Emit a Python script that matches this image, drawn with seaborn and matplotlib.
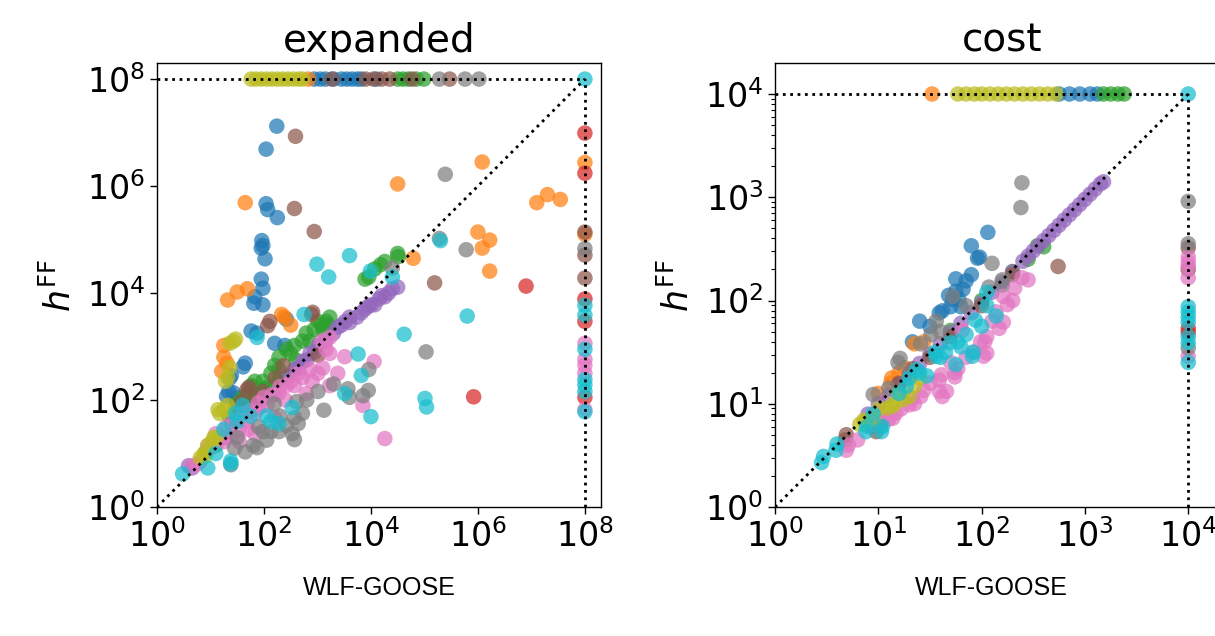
import numpy as np
import pandas as pd
import matplotlib
matplotlib.use("Agg")
import matplotlib.pyplot as plt
import matplotlib.ticker as mticker
import seaborn as sns


# =====================
# DATA (log10 of the values)
# =====================

domains = ["blue", "orange", "green", "red", "purple",
           "brown", "pink", "gray", "olive", "cyan"]

exp_cap = 8
cost_cap = 4

# ---- expanded ----
exp_blue = [(2.94, 8), (3.05, 8), (3.15, 8), (3.3, 8), (3.45, 8), (3.55, 8),
            (3.65, 8), (3.75, 8), (3.82, 8), (4.1, 8),
            (2.24, 7.12), (2.04, 6.69), (2.04, 5.67), (2.07, 5.56), (2.25, 5.41),
            (1.96, 4.98), (1.98, 4.89), (1.95, 4.84), (2.02, 4.64), (1.95, 4.26),
            (1.98, 4.09), (1.83, 3.93), (1.81, 3.81), (1.98, 3.78), (1.76, 3.29),
            (1.87, 3.25), (2.2, 3.06), (2.39, 3.02), (1.65, 2.69), (1.39, 2.46),
            (1.34, 2.16), (1.42, 2.14), (2.42, 3.51), (1.30, 2.07), (1.48, 2.04),
            (1.61, 2.62), (1.36, 2.41)]
exp_orange = [(2.83, 8), (8, 6.44), (8, 5.1),
              (1.65, 5.69), (4.5, 6.04), (6.08, 6.45), (7.1, 5.69), (7.3, 5.84),
              (7.54, 5.75), (6.0, 5.14), (6.08, 4.84), (6.22, 4.99), (6.22, 4.41),
              (4.79, 4.65), (1.32, 3.87), (1.5, 4.02), (1.69, 4.08), (2.33, 3.6),
              (2.5, 3.4), (1.25, 3.02), (1.25, 2.8), (1.31, 2.69), (1.21, 2.54),
              (2.38, 3.55)]
exp_green = [(4.5, 8), (4.6, 8), (4.7, 8), (4.85, 8), (4.99, 8),
             (4.5, 4.74), (4.51, 4.68), (4.26, 4.59), (4.18, 4.53), (4.07, 4.45),
             (3.96, 4.3), (3.89, 4.26), (3.23, 3.55), (3.16, 3.47), (3.08, 3.4),
             (3.01, 3.47), (2.94, 3.32), (2.79, 3.25), (2.72, 3.1), (2.57, 3.02),
             (2.5, 2.87), (2.42, 2.95), (2.28, 2.8), (2.2, 2.65), (2.13, 2.5),
             (1.98, 2.35), (1.83, 2.35), (1.76, 2.27), (1.69, 2.12), (1.61, 2.05),
             (1.54, 1.97), (1.47, 1.9), (2.28, 2.57), (2.42, 2.42), (2.2, 2.27),
             (2.06, 2.24), (1.91, 2.05), (0.92, 1.03),
             (1.7, 1.9), (1.85, 2.1), (2.0, 2.2), (2.3, 2.4), (2.6, 2.75),
             (2.85, 3.1), (3.1, 3.3), (3.2, 3.4), (1.35, 1.7), (1.1, 1.15)]
exp_red = [(8, 6.99), (8, 6.24), (8, 3.89), (8, 3.47), (8, 2.05),
           (6.9, 4.13), (5.92, 2.06)]
exp_purple = [(4.5, 4.11), (4.4, 4.08), (4.33, 4.0), (4.26, 3.93), (4.15, 3.89),
              (4.07, 3.78), (4.0, 3.78), (3.89, 3.7), (3.82, 3.63), (3.74, 3.55),
              (3.6, 3.55), (3.52, 3.47), (3.45, 3.4), (3.38, 3.36), (3.3, 3.25),
              (3.01, 3.02), (2.86, 2.87), (2.72, 2.72), (2.57, 2.57),
              (0.59, 0.77), (0.66, 0.73),
              (2.45, 2.45), (2.65, 2.6), (2.8, 2.75), (2.95, 2.9), (3.15, 3.1),
              (3.6, 3.45), (3.95, 3.75), (4.2, 3.95), (1.9, 1.85), (2.2, 2.1),
              (1.3, 1.3)]
exp_brown = [(3.27, 8), (3.9, 8), (4.05, 8), (4.2, 8), (4.35, 8), (4.77, 8),
             (5.47, 8), (8, 5.14), (8, 4.71), (8, 4.28),
             (2.59, 6.93), (2.57, 5.58), (2.94, 5.15), (5.19, 4.19), (2.11, 3.47),
             (2.91, 3.64), (1.72, 2.24), (1.98, 2.16), (3.01, 2.84), (1.58, 1.97),
             (2.07, 3.39), (2.36, 2.64), (2.21, 2.41), (1.68, 2.19), (1.52, 1.88),
             (2.89, 3.6), (1.4, 1.55), (1.85, 2.0)]
exp_pink = [(8, 3.06), (8, 2.76), (8, 2.65), (8, 2.5), (8, 1.82),
            (4.26, 1.28), (3.85, 1.9), (4.06, 2.72), (3.51, 2.81), (3.16, 2.95),
            (3.23, 2.87), (3.01, 2.5), (2.86, 2.57), (2.72, 2.42), (2.57, 2.27),
            (2.42, 2.27), (2.28, 2.12), (2.06, 1.9), (1.83, 1.75), (1.69, 1.6),
            (1.54, 1.45), (1.39, 1.37), (1.25, 1.3), (1.1, 1.37), (0.95, 1.15),
            (0.81, 0.85), (0.66, 0.77), (3.23, 2.27), (3.38, 2.5), (2.79, 2.12),
            (2.2, 1.67), (1.83, 1.37), (1.54, 1.22), (1.25, 1.22), (3.23, 3.17),
            (3.08, 3.1),
            (1.3, 1.5), (1.45, 1.6), (1.6, 1.75), (1.75, 1.8), (1.9, 1.95),
            (2.0, 2.05), (2.15, 2.1), (2.3, 2.25), (2.5, 2.35), (2.65, 2.5),
            (1.15, 1.25), (1.0, 1.1), (0.75, 0.8), (1.7, 1.45), (2.4, 2.0),
            (2.9, 2.35), (3.1, 2.6)]
exp_gray = [(5.28, 8), (5.76, 8), (6.02, 8), (8, 4.83),
            (5.39, 6.22), (5.28, 5.02), (5.78, 4.81), (4.4, 4.47), (5.03, 2.9),
            (3.96, 2.57), (3.95, 2.18), (3.85, 2.08), (3.57, 2.21), (3.6, 2.05),
            (3.01, 2.16), (3.12, 1.81), (2.61, 1.97), (2.57, 1.67), (2.72, 1.75),
            (2.64, 1.56), (2.42, 1.52), (2.53, 1.37), (2.57, 1.26), (2.28, 1.41),
            (2.13, 1.41), (1.87, 1.11), (1.8, 1.15), (2.19, 1.93), (1.65, 1.03),
            (1.38, 0.79), (1.98, 1.41),
            (1.5, 1.3), (1.9, 1.5), (2.3, 1.7), (2.8, 2.0), (3.3, 2.3),
            (1.45, 1.1), (2.05, 1.25)]
exp_olive = [(1.76, 8), (1.85, 8), (1.95, 8), (2.05, 8), (2.15, 8), (2.25, 8),
             (2.35, 8), (2.45, 8), (2.55, 8), (2.65, 8), (2.72, 8),
             (1.36, 3.06), (1.43, 3.1), (1.47, 3.14), (1.36, 2.61), (1.32, 2.42),
             (1.28, 2.35), (1.32, 1.9), (1.25, 1.82), (1.17, 1.75), (1.14, 1.82),
             (1.06, 1.3), (1.03, 1.22), (0.95, 1.15), (0.88, 1.0), (0.81, 0.92),
             (1.1, 1.3), (0.9, 0.95)]
exp_cyan = [(8, 8), (8, 3.77), (8, 3.59), (8, 2.95), (8, 2.38), (8, 2.28),
            (8, 2.16), (8, 1.78),
            (2.99, 4.54), (3.6, 4.7), (3.21, 4.3), (5.3, 4.98), (3.99, 4.41),
            (4.4, 4.3), (2.75, 3.6), (5.8, 3.57), (4.62, 3.23), (3.76, 2.86),
            (3.82, 2.46), (3.51, 2.12), (5.01, 2.03), (5.04, 1.87), (4.0, 1.69),
            (2.53, 1.86), (2.13, 1.6), (2.28, 1.56), (1.87, 3.17), (1.38, 0.86),
            (1.38, 0.81), (0.48, 0.62), (0.95, 0.73), (1.47, 1.75), (1.5, 1.6),
            (1.6, 1.9), (1.75, 1.7), (1.25, 1.45), (1.1, 1.0), (2.05, 1.7)]

# ---- cost ----
cost_blue = [(2.75, 4), (2.85, 4), (2.95, 4), (3.05, 4), (3.12, 4),
             (2.06, 2.66), (1.9, 2.53), (1.96, 2.41), (1.98, 2.42), (1.9, 2.25),
             (1.75, 2.21), (1.85, 2.19), (1.82, 2.11), (1.75, 2.09), (1.72, 2.01),
             (1.78, 2.01), (1.7, 1.94), (1.8, 1.94), (1.59, 1.88), (1.62, 1.9),
             (1.4, 1.8), (1.33, 1.6), (1.68, 2.05), (1.5, 1.75)]
cost_orange = [(1.52, 4), (1.13, 1.25), (1.35, 1.58), (1.44, 1.6), (1.12, 1.2),
               (1.25, 1.35), (1.0, 1.1), (1.2, 1.3)]
cost_green = [(3.18, 4), (3.25, 4), (3.32, 4), (3.38, 4),
              (2.54, 2.53), (1.7, 1.71), (2.3, 2.28), (2.6, 2.52),
              (2.0, 2.0), (2.2, 2.15), (2.45, 2.4)]
cost_red = [(4, 1.73), (4, 1.69)]
cost_purple = [(0.9, 0.9), (1.0, 1.0), (1.1, 1.08), (1.2, 1.19), (1.3, 1.28),
               (1.4, 1.39), (1.5, 1.48), (1.6, 1.58), (1.7, 1.69), (1.8, 1.78),
               (1.9, 1.88), (2.0, 1.98), (2.1, 2.08), (2.2, 2.18), (2.3, 2.28),
               (2.4, 2.38), (2.45, 2.43), (2.5, 2.48), (2.55, 2.53), (2.6, 2.58),
               (2.65, 2.63), (2.7, 2.68), (2.75, 2.73), (2.8, 2.78), (2.85, 2.83),
               (2.9, 2.88), (2.95, 2.93), (3.0, 2.98), (3.05, 3.03), (3.1, 3.08),
               (3.15, 3.13), (3.18, 3.15)]
cost_brown = [(4, 2.51), (4, 2.3),
              (2.74, 2.33), (0.93, 0.78), (0.69, 0.7), (1.33, 1.34), (0.68, 0.65),
              (0.98, 0.73), (1.7, 1.65), (2.0, 1.95),
              (1.5, 1.45), (1.2, 1.2), (2.3, 2.25)]
cost_pink = [(4, 2.42), (4, 2.37), (4, 2.33), (4, 2.22), (4, 1.46),
             (2.39, 2.22), (2.32, 2.12), (2.21, 2.04), (2.25, 1.96), (2.14, 1.89),
             (2.21, 1.79), (2.05, 1.65), (2.05, 1.49), (1.92, 1.5), (1.77, 1.34),
             (1.74, 1.26), (1.61, 1.28), (1.66, 1.12), (1.59, 1.12), (1.44, 1.13),
             (1.33, 1.05), (1.22, 0.95), (1.17, 0.91), (1.04, 0.91), (0.71, 0.6),
             (1.81, 1.71), (1.99, 1.6), (2.17, 1.73), (2.03, 1.6), (2.02, 1.46),
             (1.74, 1.3), (1.59, 1.23), (1.62, 1.07), (1.41, 1.07), (1.3, 0.99),
             (1.14, 0.86), (1.04, 0.84), (0.69, 0.55),
             (1.5, 1.2), (1.7, 1.4), (1.85, 1.45), (2.1, 1.8), (2.3, 2.0),
             (2.45, 2.2), (1.35, 1.0), (1.1, 0.85), (0.95, 0.8), (0.8, 0.65)]
cost_gray = [(4, 2.96), (4, 2.55), (4, 1.54),
             (2.39, 3.14), (2.38, 2.9), (2.1, 2.36), (1.56, 1.8), (1.51, 1.67),
             (1.19, 1.4), (0.95, 1.09), (2.07, 2.13), (1.72, 2.04), (1.41, 1.58),
             (1.21, 1.44), (1.02, 0.78),
             (1.3, 1.3), (1.6, 1.7), (1.85, 1.95), (1.1, 1.15), (2.2, 2.2)]
cost_olive = [(1.77, 4), (1.85, 4), (1.93, 4), (2.0, 4), (2.08, 4), (2.16, 4),
              (2.24, 4), (2.32, 4), (2.4, 4), (2.48, 4), (2.56, 4), (2.64, 4),
              (2.72, 4),
              (0.82, 0.8), (0.88, 0.83), (0.95, 0.85), (1.09, 0.96), (1.14, 0.98),
              (1.24, 1.04), (1.3, 1.07), (1.35, 1.17), (0.86, 0.84),
              (1.0, 0.95), (1.2, 1.1), (1.4, 1.25), (1.15, 1.0)]
cost_cyan = [(4, 4), (4, 1.94), (4, 1.89), (4, 1.84), (4, 1.79), (4, 1.65),
             (4, 1.59), (4, 1.4),
             (1.94, 1.81), (1.92, 1.5), (2.14, 1.85), (2.05, 2.08), (1.77, 1.6),
             (1.55, 1.5), (0.89, 0.78), (1.04, 0.78), (0.6, 0.61), (0.47, 0.49),
             (0.45, 0.43), (0.59, 0.55), (0.88, 0.73), (1.03, 0.73), (1.91, 1.46),
             (1.75, 1.38), (1.47, 1.27), (1.27, 1.17), (1.37, 1.33), (1.56, 1.46),
             (1.69, 1.59), (1.85, 1.67),
             (1.2, 1.1), (1.4, 1.3), (1.6, 1.45), (1.3, 1.25), (0.95, 0.9),
             (1.8, 1.55), (2.0, 1.75), (1.65, 1.5), (2.05, 1.95)]

expanded_sets = [exp_blue, exp_orange, exp_green, exp_red, exp_purple,
                 exp_brown, exp_pink, exp_gray, exp_olive, exp_cyan]
cost_sets = [cost_blue, cost_orange, cost_green, cost_red, cost_purple,
             cost_brown, cost_pink, cost_gray, cost_olive, cost_cyan]


def to_frame(sets):
    rows = []
    for name, pts in zip(domains, sets):
        for lx, ly in pts:
            rows.append({"domain": name, "x": 10 ** lx, "y": 10 ** ly})
    return pd.DataFrame(rows)


# =====================
# PLOT
# =====================

sns.set_style("ticks")
plt.rcParams["font.family"] = ["DejaVu Sans"]
plt.rcParams["mathtext.fontset"] = "dejavusans"
for key in ["text.color", "axes.labelcolor", "xtick.color", "ytick.color",
            "axes.edgecolor"]:
    plt.rcParams[key] = "black"

fig = plt.figure(figsize=(12.15, 6.36), dpi=100)
# left panel is square, right one runs past the figure edge (cropped)
ax1 = fig.add_axes([0.1292, 0.2028, 0.3654, 0.6981])
ax2 = fig.add_axes([0.6379, 0.2028, 0.3745, 0.6981])

palette = sns.color_palette("tab10", 10)

panels = [
    (ax1, to_frame(expanded_sets), exp_cap, "expanded", [0, 2, 4, 6, 8], 0.3, 0.5),
    (ax2, to_frame(cost_sets), cost_cap, "cost", [0, 1, 2, 3, 4], 0.405, 0.475),
]

for ax, df, cap, title, ticks, xpad, label_x in panels:
    sns.scatterplot(
        data=df, x="x", y="y",
        hue="domain", hue_order=domains, palette=palette,
        s=125, alpha=0.72, linewidth=0,
        legend=False, ax=ax, zorder=2
    )
    top = 10 ** cap
    ax.plot([1, top], [1, top], ls=":", color="k", lw=2, zorder=3)
    ax.plot([1, top], [top, top], ls=":", color="k", lw=2, zorder=3)
    ax.plot([top, top], [1, top], ls=":", color="k", lw=2, zorder=3)

    ax.set_xscale("log")
    ax.set_yscale("log")
    ax.set_xlim(1, 10 ** (cap + xpad))
    ax.set_ylim(1, 10 ** (cap + 0.3))
    ax.set_xticks([10.0 ** t for t in ticks])
    ax.set_yticks([10.0 ** t for t in ticks])
    ax.xaxis.set_minor_locator(mticker.NullLocator())
    if cap > 4:
        ax.yaxis.set_minor_locator(mticker.NullLocator())
    ax.tick_params(axis="both", which="major", labelsize=24, length=5,
                   width=1, color="k")
    ax.tick_params(axis="y", which="minor", length=3, width=0.8, color="k")
    for sp in ax.spines.values():
        sp.set_color("k")
        sp.set_linewidth(1)

    ax.set_title(title, fontsize=28, pad=8)
    ax.set_xlabel("WLF-GOOSE", fontsize=18, family="Liberation Sans",
                  labelpad=16)
    ax.xaxis.label.set_x(label_x)
    ax.set_ylabel(r"$h^{\mathrm{FF}}$", fontsize=25, labelpad=6)

fig.savefig("out.png", dpi=100)
plt.close(fig)
